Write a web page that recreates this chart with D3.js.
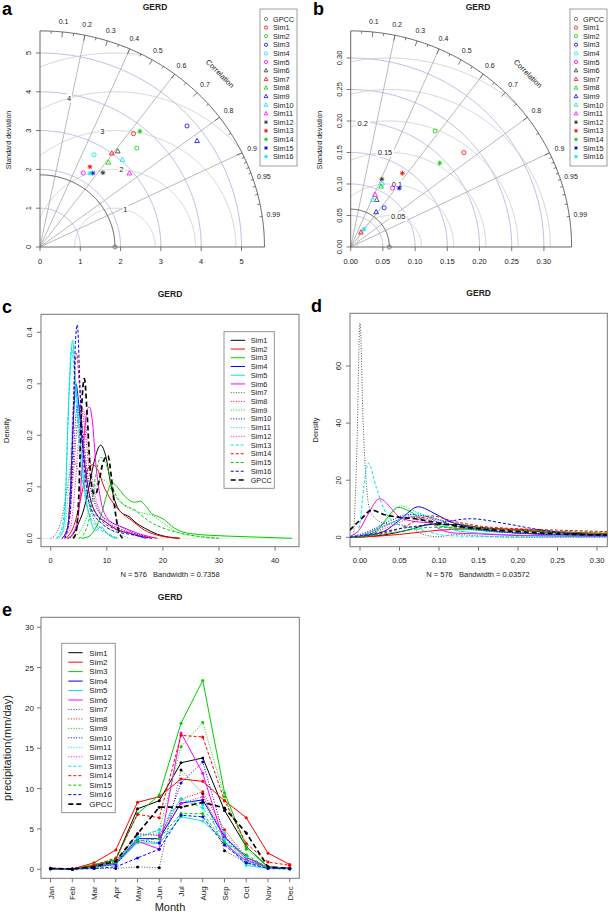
<!DOCTYPE html>
<html>
<head>
<meta charset="utf-8">
<script src="https://cdn.jsdelivr.net/npm/d3@7"></script>
<style>
body { margin: 0; background: #fff; }
svg { font-family: "Liberation Sans", Arial, Helvetica, sans-serif; }
</style>
</head>
<body>
<svg id="fig" width="609" height="916"></svg>
<script>
// ---- data ----
var sims = ["Sim1","Sim2","Sim3","Sim4","Sim5","Sim6","Sim7","Sim8",
            "Sim9","Sim10","Sim11","Sim12","Sim13","Sim14","Sim15","Sim16"];
var lineNames = sims.concat(["GPCC"]);
var taylorNames = ["GPCC"].concat(sims);
var months = ["Jan","Feb","Mar","Apr","May","Jun","Jul","Aug","Sep","Oct","Nov","Dec"];

// Taylor diagram a (standard deviation and correlation of each sim)
var refSdA = 1.86;
var sdA  = [3.73,3.50,4.80,2.73,2.19,3.13,3.00,2.76,4.76,3.04,2.92,2.47,2.41,3.88,2.31,2.27];
var corA = [0.622,0.686,0.760,0.491,0.490,0.616,0.594,0.615,0.819,0.673,0.760,0.632,0.514,0.639,0.567,0.546];
var sdTicksA = [0,1,2,3,4,5];
var rmsA = [1,2,3,4,5];

// Taylor diagram b
var refSdB = 0.06;
var sdB  = [0.231,0.226,0.081,0.111,0.114,0.085,0.028,0.107,0.068,0.082,0.091,0.118,0.142,0.192,0.120,0.035];
var corB = [0.761,0.580,0.641,0.439,0.570,0.476,0.566,0.441,0.581,0.416,0.416,0.410,0.565,0.720,0.628,0.592];
var sdTicksB = [0,0.05,0.10,0.15,0.20,0.25,0.30];
var rmsB = [0.05,0.1,0.15,0.2,0.25,0.3];

var corrLines = [0.2,0.4,0.6,0.8,0.9];
var corrLabels = [0.1,0.2,0.3,0.4,0.5,0.6,0.7,0.8,0.9,0.95,0.99];
var corrTicks = [0.05,0.1,0.15,0.2,0.25,0.3,0.35,0.4,0.45,0.5,0.55,0.6,0.65,0.7,0.75,0.8,0.85,
                 0.9,0.91,0.92,0.93,0.94,0.95,0.96,0.97,0.98,0.99];

// density curves panel c, [x, density] per series (Sim1..Sim16, GPCC)
var densityC = [
  [[3,0],[4,0.008],[5,0.03],[6,0.06],[7,0.11],[8,0.16],[8.9,0.181],[9.8,0.16],[10.8,0.1],[11.7,0.065],[12.6,0.05],[14,0.042],[15,0.032],[16.7,0.02],[19,0.008],[23,0]],
  [[2.5,0],[3.5,0.01],[4.3,0.03],[5,0.06],[6,0.11],[6.8,0.138],[7.6,0.143],[8.5,0.13],[9.5,0.1],[10.8,0.074],[12.6,0.05],[14.4,0.035],[16.7,0.016],[19,0.006],[23,0]],
  [[5.5,0],[7,0.005],[8,0.02],[9,0.045],[10,0.085],[10.9,0.108],[12,0.098],[13,0.084],[14,0.074],[15,0.07],[16,0.072],[17,0.062],[18,0.048],[19,0.043],[20,0.038],[22,0.02],[25,0.009],[30,0.005],[35,0.003],[43,0]],
  [[2,0],[3,0.02],[3.5,0.09],[4,0.22],[4.5,0.3],[5,0.26],[5.5,0.2],[6,0.15],[7,0.08],[8,0.05],[10,0.03],[12,0.016],[14,0.01],[17,0]],
  [[1,0],[2,0.01],[2.5,0.04],[3,0.2],[3.5,0.33],[3.9,0.385],[4.4,0.31],[5,0.22],[5.5,0.16],[6,0.1],[7,0.04],[8,0.015],[9,0.022],[10,0.01],[11.5,0]],
  [[3,0],[4,0.01],[5,0.05],[5.5,0.12],[6,0.2],[6.5,0.25],[6.9,0.255],[7.5,0.22],[8,0.15],[9,0.07],[10,0.04],[11,0.03],[12,0.025],[14,0.016],[16,0.008],[19,0]],
  [[0,0],[1,0.01],[2,0.04],[3,0.1],[4,0.15],[5,0.13],[6,0.1],[7,0.06],[8,0.03],[9,0.02],[10,0.01],[12,0]],
  [[2,0],[3,0.02],[4,0.12],[4.7,0.22],[5.3,0.26],[6,0.22],[7,0.12],[8,0.07],[9,0.045],[10,0.03],[12,0.02],[14,0.012],[16,0.006],[19,0]],
  [[3,0],[5,0.01],[6,0.03],[7,0.06],[8,0.1],[8.8,0.115],[10,0.11],[11,0.09],[12,0.075],[13,0.065],[14,0.058],[16,0.05],[18,0.045],[20,0.03],[22,0.015],[26,0.004],[30,0]],
  [[2,0],[3,0.02],[4,0.15],[4.5,0.24],[5,0.26],[5.6,0.22],[6.5,0.13],[7.5,0.08],[9,0.045],[11,0.03],[13,0.02],[15,0.01],[18,0]],
  [[1.5,0],[2.5,0.02],[3.3,0.12],[4,0.26],[4.4,0.3],[5,0.24],[5.6,0.16],[6.5,0.09],[7.5,0.05],[9,0.03],[11,0.015],[14,0]],
  [[2,0],[3.5,0.02],[4.5,0.12],[5.3,0.23],[5.8,0.25],[6.5,0.2],[7.5,0.11],[8.5,0.06],[10,0.035],[12,0.02],[14,0.012],[17,0]],
  [[1,0],[2,0.02],[2.7,0.1],[3.2,0.27],[3.7,0.37],[4.2,0.32],[4.8,0.22],[5.5,0.13],[6.5,0.06],[8,0.025],[10,0.01],[12,0]],
  [[2,0],[3,0.02],[3.7,0.15],[4.2,0.3],[4.6,0.36],[5.1,0.3],[5.7,0.2],[6.5,0.11],[7.5,0.06],[9,0.035],[11,0.02],[14,0.01],[18,0]],
  [[5,0],[6,0.01],[7,0.045],[8,0.12],[8.9,0.157],[10,0.14],[11,0.1],[12,0.077],[13,0.066],[14,0.06],[15,0.055],[16,0.046],[18,0.03],[20,0.02],[25,0.006],[30,0]],
  [[2.5,0],[3.5,0.05],[4,0.22],[4.4,0.38],[4.75,0.415],[5.2,0.3],[5.7,0.18],[6.5,0.09],[7.5,0.05],[9,0.03],[11,0.015],[14,0.008],[18,0]],
  [[4,0],[4.5,0.01],[5,0.08],[5.5,0.25],[6,0.31],[6.5,0.24],[7,0.14],[7.5,0.09],[8,0.085],[8.6,0.11],[9.4,0.15],[10.2,0.16],[10.8,0.12],[11.4,0.06],[12,0.02],[12.8,0]]
];

// density curves panel d
var densityD = [
  [[-0.013,0],[0,0.1],[0.03,0.8],[0.06,2.5],[0.09,4.5],[0.12,4.5],[0.15,3.5],[0.2,2.5],[0.25,1.6],[0.313,1]],
  [[-0.013,0],[0,0.1],[0.05,1],[0.1,2.5],[0.15,3],[0.2,2.8],[0.25,2],[0.313,1.3]],
  [[-0.013,0],[0,0.3],[0.02,2],[0.035,7],[0.048,10.5],[0.06,9.5],[0.08,6],[0.1,4],[0.15,2.5],[0.2,1.5],[0.313,0.8]],
  [[-0.013,0],[0,0.3],[0.03,2],[0.05,6],[0.074,10.7],[0.09,9],[0.11,6],[0.13,4],[0.15,3],[0.2,1.5],[0.313,0.5]],
  [[-0.013,0],[0,0.5],[0.03,4],[0.06,7],[0.08,7.5],[0.1,5],[0.12,2.5],[0.15,1.5],[0.2,0.8],[0.313,0.3]],
  [[-0.013,0.3],[0,3],[0.01,8],[0.025,13.5],[0.04,10],[0.05,7],[0.07,5.5],[0.09,5],[0.1,3],[0.12,1.5],[0.15,1.2],[0.2,0.6],[0.313,0.3]],
  [[-0.008,0],[-0.004,30],[0,75],[0.004,40],[0.0105,12],[0.015,8],[0.03,5],[0.06,4],[0.08,1],[0.1,0.2],[0.12,1],[0.15,0.5],[0.2,0],[0.313,0]],
  [[-0.013,0],[0,0.5],[0.04,4],[0.07,7],[0.1,6],[0.15,3.5],[0.2,2.5],[0.313,1]],
  [[-0.013,0],[0,0.3],[0.03,5],[0.053,11],[0.07,9],[0.09,7],[0.12,5],[0.15,3.5],[0.2,2],[0.313,1.5]],
  [[-0.013,0.2],[0,1],[0.04,6],[0.06,8],[0.09,7],[0.12,4],[0.15,2.5],[0.2,1.5],[0.313,0.8]],
  [[-0.013,0],[0,0.5],[0.04,5],[0.065,8.5],[0.09,7],[0.12,4],[0.15,2.5],[0.2,1.5],[0.313,0.6]],
  [[-0.013,0.1],[0,0.8],[0.04,5],[0.06,7.5],[0.09,6],[0.12,4],[0.15,3],[0.2,1.5],[0.313,0.7]],
  [[-0.006,0],[0,5],[0.005,18],[0.0105,26],[0.02,18],[0.03,10],[0.04,6],[0.06,3.5],[0.08,2.5],[0.1,1],[0.12,0.5],[0.2,0.2],[0.313,0.1]],
  [[-0.013,0],[0,0.2],[0.05,3],[0.09,7.5],[0.12,5.5],[0.15,4],[0.2,3],[0.25,2.5],[0.313,2]],
  [[-0.013,0],[0,0.2],[0.05,2],[0.09,3.5],[0.12,3.5],[0.15,3],[0.2,2.5],[0.25,2],[0.313,1.8]],
  [[-0.013,0],[0,0.5],[0.05,3],[0.1,5],[0.14,6.5],[0.18,5],[0.22,3],[0.26,1.5],[0.313,0.7]],
  [[-0.013,2.5],[0,6],[0.015,9.5],[0.03,8],[0.05,7],[0.07,6.5],[0.09,5.5],[0.12,4],[0.15,3],[0.2,2],[0.25,1.2],[0.313,0.8]]
];

// monthly precipitation panel e (mm/day), Sim1..Sim16, GPCC
var monthly = [
  [0.1,0.05,0.4,1.2,7.5,8.5,13.2,13.8,7.3,2.8,0.3,0.1],
  [0.15,0.05,0.8,2.4,8.3,9.0,11.2,10.9,8.5,6.4,2.0,0.6],
  [0.1,0.02,0.6,1.2,6.9,9.2,18.1,23.4,9.5,2.8,0.3,0.1],
  [0.1,0.02,0.3,0.8,3.8,3.8,8.2,8.6,4.0,1.5,0.2,0.1],
  [0.05,0.02,0.2,0.6,3.3,3.2,6.5,6.0,3.5,0.5,0.1,0.05],
  [0.1,0.02,0.3,0.7,3.5,2.5,16.9,11.9,3.2,1.0,0.3,0.1],
  [0.1,0.02,0.1,0.1,0.3,0.2,12.3,9.4,2.3,0.8,0.2,0.1],
  [0.1,0.05,0.4,1.0,4.4,4.2,8.7,9.6,4.9,1.5,0.3,0.2],
  [0.1,0.02,0.5,1.0,4.0,4.9,15.2,18.2,9.0,2.5,0.3,0.1],
  [0.1,0.02,0.3,0.6,3.6,3.3,10.7,13.3,4.0,1.2,0.2,0.1],
  [0.1,0.02,0.4,1.0,4.0,4.5,8.7,8.0,4.5,1.5,0.2,0.1],
  [0.1,0.02,0.4,0.9,4.4,4.2,8.2,9.0,4.2,1.2,0.3,0.2],
  [0.1,0.02,0.3,0.8,3.9,4.9,8.7,7.6,3.8,1.0,0.2,0.1],
  [0.1,0.05,0.5,1.4,6.8,6.4,16.6,16.4,8.5,3.2,0.9,0.5],
  [0.1,0.02,0.3,0.8,3.5,3.8,6.9,6.9,3.3,1.8,0.2,0.1],
  [0.05,0.02,0.1,0.3,1.4,2.5,6.7,6.5,3.0,0.8,0.1,0.05],
  [0.1,0.05,0.3,1.0,4.4,7.7,7.7,8.3,7.6,4.5,0.3,0.1]
];

// ---- styles ----
var lineColors = ["#000000","#ff0000","#00cd00","#0000ff","#00e5e5","#ff00ff",
                  "#555555","#ff0000","#00cd00","#0000ff","#00e5e5","#ff00ff",
                  "#00e5e5","#ff0000","#00cd00","#0000ff","#000000"];
var lineDash = ["","","","","","","1,1.6","1,1.6","1,1.6","1,1.6","1,1.6","1,1.6",
                "3,2","3,2","3,2","3,2","5,3"];
var lineWidth = function(i) { return i === 16 ? 1.7 : 1; };

var taylorColors = ["#666666","#ff0000","#00cd00","#0000ff","#00e5e5","#ff00ff",
                    "#333333","#ff0000","#00cd00","#0000ff","#00e5e5","#ff00ff",
                    "#333333","#ff0000","#00cd00","#0000ff","#00e5e5"];
var taylorShapes = ["circle","circle","circle","circle","circle","circle",
                    "triangle","triangle","triangle","triangle","triangle","triangle",
                    "asterisk","asterisk","asterisk","asterisk","asterisk"];

var svg = d3.select("#fig");

function label(g, x, y, s, size, anchor, extra) {
  var t = g.append("text").attr("x", x).attr("y", y).text(s)
    .attr("font-size", size).attr("text-anchor", anchor || "middle").attr("fill", "#222");
  if (extra) extra(t);
  return t;
}

function marker(g, shape, x, y, col, s) {
  if (shape === "circle") {
    g.append("circle").attr("cx", x).attr("cy", y).attr("r", s * 0.85)
      .attr("fill", "none").attr("stroke", col).attr("stroke-width", 0.8);
  } else if (shape === "triangle") {
    var h = s * 1.1;
    g.append("path")
      .attr("d", "M" + x + "," + (y - h) + "L" + (x + h * 0.9) + "," + (y + h * 0.6) +
                 "L" + (x - h * 0.9) + "," + (y + h * 0.6) + "Z")
      .attr("fill", "none").attr("stroke", col).attr("stroke-width", 0.8);
  } else {
    var a = s * 0.7, p = "";
    p += "M" + (x - s) + "," + y + "L" + (x + s) + "," + y;
    p += "M" + x + "," + (y - s) + "L" + x + "," + (y + s);
    p += "M" + (x - a) + "," + (y - a) + "L" + (x + a) + "," + (y + a);
    p += "M" + (x - a) + "," + (y + a) + "L" + (x + a) + "," + (y - a);
    g.append("path").attr("d", p).attr("stroke", col).attr("stroke-width", 0.9);
  }
}

// ---- Taylor diagram ----
function drawTaylor(c) {
  var g = svg.append("g");
  var sx = d3.scaleLinear().domain([0, 1]).range([c.x0, c.x0 + c.kx]);
  var sy = d3.scaleLinear().domain([0, 1]).range([c.y0, c.y0 - c.ky]);
  var R = c.maxsd;
  var P = function(r, t) { return [sx(r * Math.cos(t)), sy(r * Math.sin(t))]; };
  var line = d3.line();
  var quarter = d3.range(0, 90.25, 0.5).map(function(d) { return d * Math.PI / 180; });
  var half = d3.range(0, 180.1, 0.25).map(function(d) { return d * Math.PI / 180; });

  // arcs of constant standard deviation
  c.ticks.filter(function(v) { return v > 0 && v < R; }).forEach(function(v) {
    g.append("path").attr("d", line(quarter.map(function(t) { return P(v, t); })))
      .attr("fill", "none").attr("stroke", "#aaaae6").attr("stroke-width", 0.8);
  });

  // centred RMS difference arcs
  c.rms.forEach(function(gm) {
    var pts = half.map(function(t) { return [c.ref + gm * Math.cos(t), gm * Math.sin(t)]; })
      .filter(function(p) { return p[0] >= 0 && p[0] * p[0] + p[1] * p[1] <= R * R; });
    g.append("path").attr("d", line(pts.map(function(p) { return [sx(p[0]), sy(p[1])]; })))
      .attr("fill", "none").attr("stroke", "#cccccc").attr("stroke-width", 0.9);
  });

  // correlation rays
  corrLines.forEach(function(cr) {
    var e = P(R, Math.acos(cr));
    g.append("line").attr("x1", sx(0)).attr("y1", sy(0)).attr("x2", e[0]).attr("y2", e[1])
      .attr("stroke", "#a8a8a8").attr("stroke-width", 0.8);
  });

  // reference sd arc and outer arc
  g.append("path").attr("d", line(quarter.map(function(t) { return P(c.ref, t); })))
    .attr("fill", "none").attr("stroke", "#444").attr("stroke-width", 0.9);
  g.append("path").attr("d", line(quarter.map(function(t) { return P(R, t); })))
    .attr("fill", "none").attr("stroke", "#555").attr("stroke-width", 0.9);

  // axes
  g.append("line").attr("x1", sx(0)).attr("x2", sx(R)).attr("y1", sy(0)).attr("y2", sy(0))
    .attr("stroke", "#555").attr("stroke-width", 0.9);
  g.append("line").attr("x1", sx(0)).attr("x2", sx(0)).attr("y1", sy(0)).attr("y2", sy(R))
    .attr("stroke", "#555").attr("stroke-width", 0.9);
  c.ticks.forEach(function(v) {
    g.append("line").attr("x1", sx(v)).attr("x2", sx(v)).attr("y1", sy(0)).attr("y2", sy(0) + 4)
      .attr("stroke", "#555").attr("stroke-width", 0.8);
    g.append("line").attr("x1", sx(0)).attr("x2", sx(0) - 4).attr("y1", sy(v)).attr("y2", sy(v))
      .attr("stroke", "#555").attr("stroke-width", 0.8);
    label(g, sx(v), sy(0) + 17, c.fmt(v), 7.5);
    label(g, 0, 0, c.fmt(v), 7.5, "middle", function(t) {
      t.attr("x", null).attr("y", null)
       .attr("transform", "translate(" + (sx(0) - 9) + "," + sy(v) + ") rotate(-90)");
    });
  });

  // correlation ticks on the outer arc
  corrTicks.forEach(function(cr) {
    var t = Math.acos(cr);
    var major = Math.abs(cr * 10 - Math.round(cr * 10)) < 1e-6;
    var a = P(R, t), b = P(R * (major ? 0.975 : 0.988), t);
    g.append("line").attr("x1", a[0]).attr("y1", a[1]).attr("x2", b[0]).attr("y2", b[1])
      .attr("stroke", "#555").attr("stroke-width", 0.8);
  });
  corrLabels.forEach(function(cr) {
    var p = P(R * 1.05, Math.acos(cr));
    label(g, p[0], p[1], String(cr), 7).attr("dy", "0.35em");
  });
  var cp = P(R * 1.135, Math.PI / 4);
  label(g, 0, 0, "Correlation", 7.5, "middle", function(t) {
    t.attr("x", null).attr("y", null).attr("dy", "0.35em")
     .attr("transform", "translate(" + cp[0] + "," + cp[1] + ") rotate(45)");
  });

  // RMS labels on a white patch
  c.rms.forEach(function(gm, i) {
    var ang = (c.labA0 + i * c.labStep) * Math.PI / 180;
    var x = c.ref + gm * Math.cos(ang), y = gm * Math.sin(ang);
    if (x <= 0) return;
    var s = String(gm), w = s.length * 4 + 2;
    g.append("rect").attr("x", sx(x) - w / 2).attr("y", sy(y) - 4.5).attr("width", w).attr("height", 9)
      .attr("fill", "#fff");
    label(g, sx(x), sy(y), s, 7.5).attr("dy", "0.35em");
  });

  // points
  marker(g, "circle", sx(c.ref), sy(0), taylorColors[0], 2.4);
  c.sd.forEach(function(s, i) {
    var p = P(s, Math.acos(c.cor[i]));
    marker(g, taylorShapes[i + 1], p[0], p[1], taylorColors[i + 1], 2.4);
  });

  // axis title, panel title, letter
  label(g, 0, 0, "Standard deviation", 7, "middle", function(t) {
    t.attr("x", null).attr("y", null)
     .attr("transform", "translate(" + (c.x0 - 29) + ",140) rotate(-90)");
  });
  label(g, c.titleX, 10, "GERD", 8.5).attr("font-weight", "bold");
  label(g, c.letterX, 15, c.letter, 18, "start").attr("font-weight", "bold").attr("fill", "#000");

  // legend
  g.append("rect").attr("x", c.legX).attr("y", 9).attr("width", 37).attr("height", 157)
    .attr("fill", "#fff").attr("stroke", "#888").attr("stroke-width", 0.8);
  taylorNames.forEach(function(n, i) {
    var y = 19 + i * 8.6;
    marker(g, taylorShapes[i], c.legX + 6, y, taylorColors[i], 1.9);
    label(g, c.legX + 13, y, n, 7.3, "start").attr("dy", "0.35em");
  });
}

drawTaylor({ x0: 40, y0: 247, kx: 40.3, ky: 38.8, maxsd: 5.57, ref: refSdA,
  sd: sdA, cor: corA, ticks: sdTicksA, rms: rmsA, fmt: d3.format("d"),
  labA0: 75, labStep: 10.5, titleX: 155, letter: "a", letterX: 2, legX: 260 });
drawTaylor({ x0: 350.7, y0: 247, kx: 644, ky: 630, maxsd: 0.343, ref: refSdB,
  sd: sdB, cor: corB, ticks: sdTicksB, rms: rmsB, fmt: d3.format(".2f"),
  labA0: 74, labStep: 9.3, titleX: 478, letter: "b", letterX: 313, legX: 570 });

// ---- framed panels (density and monthly) ----
function frame(c) {
  var g = svg.append("g");
  var x = d3.scaleLinear().domain(c.xd).range([c.left, c.right]);
  var y = d3.scaleLinear().domain(c.yd).range([c.bottom, c.top]);
  g.append("clipPath").attr("id", c.id).append("rect")
    .attr("x", c.left).attr("y", c.top).attr("width", c.right - c.left).attr("height", c.bottom - c.top);
  g.append("rect").attr("x", c.left).attr("y", c.top).attr("width", c.right - c.left)
    .attr("height", c.bottom - c.top).attr("fill", "none").attr("stroke", "#777").attr("stroke-width", 1);
  label(g, (c.left + c.right) / 2 + (c.titleShift || 0), c.top - 17, "GERD", 8.5).attr("font-weight", "bold");
  label(g, c.left - 39, c.top - 1, c.letter, 18, "start").attr("font-weight", "bold").attr("fill", "#000");
  return { g: g, x: x, y: y };
}

function xAxis(p, c, ticks, fmt) {
  ticks.forEach(function(v) {
    p.g.append("line").attr("x1", p.x(v)).attr("x2", p.x(v)).attr("y1", c.bottom).attr("y2", c.bottom + 4)
      .attr("stroke", "#777");
    label(p.g, p.x(v), c.bottom + 16, fmt(v), 7.5);
  });
}
function yAxisRot(p, c, ticks, fmt) {
  ticks.forEach(function(v) {
    p.g.append("line").attr("x1", c.left).attr("x2", c.left - 4).attr("y1", p.y(v)).attr("y2", p.y(v))
      .attr("stroke", "#777");
    label(p.g, 0, 0, fmt(v), 7.5, "middle", function(t) {
      t.attr("x", null).attr("y", null)
       .attr("transform", "translate(" + (c.left - 9) + "," + p.y(v) + ") rotate(-90)");
    });
  });
}

function legendLines(g, x0, y0, w, h, y1, step, size, lx1, lx2, tx) {
  g.append("rect").attr("x", x0).attr("y", y0).attr("width", w).attr("height", h)
    .attr("fill", "#fff").attr("stroke", "#888").attr("stroke-width", 0.9);
  lineNames.forEach(function(n, i) {
    var y = y1 + i * step;
    g.append("line").attr("x1", lx1).attr("x2", lx2).attr("y1", y).attr("y2", y)
      .attr("stroke", lineColors[i]).attr("stroke-width", lineWidth(i))
      .attr("stroke-dasharray", lineDash[i] || null);
    label(g, tx, y, n, size, "start").attr("dy", "0.35em");
  });
}

function densityPanel(c, data, xt, xf, yt, yf, footer) {
  var p = frame(c);
  var lg = p.g.append("g").attr("clip-path", "url(#" + c.id + ")");
  lg.append("line").attr("x1", c.left).attr("x2", c.right).attr("y1", p.y(0)).attr("y2", p.y(0))
    .attr("stroke", "#d8d8d8").attr("stroke-width", 0.6);
  var ln = d3.line().x(function(d) { return p.x(d[0]); }).y(function(d) { return p.y(d[1]); })
    .curve(d3.curveMonotoneX);
  data.forEach(function(pts, i) {
    lg.append("path").attr("d", ln(pts)).attr("fill", "none")
      .attr("stroke", lineColors[i]).attr("stroke-width", lineWidth(i))
      .attr("stroke-dasharray", lineDash[i] || null);
  });
  xAxis(p, c, xt, xf);
  yAxisRot(p, c, yt, yf);
  label(p.g, 0, 0, "Density", 7.5, "middle", function(t) {
    t.attr("x", null).attr("y", null)
     .attr("transform", "translate(" + (c.left - 32) + "," + ((c.top + c.bottom) / 2) + ") rotate(-90)");
  });
  label(p.g, c.footX, c.bottom + 30.5, footer, 7.5).attr("xml:space", "preserve");
  return p;
}

var cCfg = { id: "clipC", left: 41, right: 299, top: 314.3, bottom: 546.7,
  xd: [-1.729, 44.26], yd: [-0.0163, 0.435], letter: "c", footX: 170 };
var pc = densityPanel(cCfg, densityC, [0,10,20,30,40], d3.format("d"),
  [0,0.1,0.2,0.3,0.4], d3.format(".1f"), "N = 576   Bandwidth = 0.7358");
legendLines(pc.g, 224, 331.7, 50.3, 156.6, 340.3, 8.73, 7.3, 230.7, 245, 250.7);

var dCfg = { id: "clipD", left: 350, right: 607.3, top: 313.3, bottom: 546.7,
  xd: [-0.01266, 0.313], yd: [-3.29, 78.46], letter: "d", footX: 478 };
densityPanel(dCfg, densityD, [0,0.05,0.1,0.15,0.2,0.25,0.3], d3.format(".2f"),
  [0,20,40,60], d3.format("d"), "N = 576   Bandwidth = 0.03572");

// ---- panel e: monthly cycle ----
var eCfg = { id: "clipE", left: 41, right: 299.3, top: 617.3, bottom: 878.3,
  xd: [0.56, 12.44], yd: [-1.115, 31.23], letter: "e" };
var pe = frame(eCfg);
[0,5,10,15,20,25,30].forEach(function(v) {
  pe.g.append("line").attr("x1", eCfg.left).attr("x2", eCfg.left - 4).attr("y1", pe.y(v)).attr("y2", pe.y(v))
    .attr("stroke", "#777");
  label(pe.g, eCfg.left - 7, pe.y(v) + 3, String(v), 8, "end");
});
months.forEach(function(m, i) {
  var x = pe.x(i + 1);
  pe.g.append("line").attr("x1", x).attr("x2", x).attr("y1", eCfg.bottom).attr("y2", eCfg.bottom + 4)
    .attr("stroke", "#777");
  label(pe.g, 0, 0, m, 8, "end", function(t) {
    t.attr("x", null).attr("y", null)
     .attr("transform", "translate(" + (x + 3) + "," + (eCfg.bottom + 8) + ") rotate(-90)");
  });
});
var eg = pe.g.append("g").attr("clip-path", "url(#clipE)");
var eLine = d3.line().x(function(d, i) { return pe.x(i + 1); }).y(function(d) { return pe.y(d); });
monthly.forEach(function(vals, i) {
  eg.append("path").attr("d", eLine(vals)).attr("fill", "none")
    .attr("stroke", lineColors[i]).attr("stroke-width", lineWidth(i))
    .attr("stroke-dasharray", lineDash[i] || null);
  vals.forEach(function(v, j) {
    eg.append("circle").attr("cx", pe.x(j + 1)).attr("cy", pe.y(v)).attr("r", 1.5)
      .attr("fill", i === 6 ? "#000" : lineColors[i]);
  });
});
legendLines(pe.g, 61.7, 643.3, 53.6, 169.4, 652.7, 9.46, 8, 68.3, 82.7, 89.3);
label(pe.g, 170, 911, "Month", 11);
label(pe.g, 0, 0, "precipitation(mm/day)", 11, "middle", function(t) {
  t.attr("x", null).attr("y", null).attr("transform", "translate(11,748) rotate(-90)");
});
</script>
</body>
</html>
